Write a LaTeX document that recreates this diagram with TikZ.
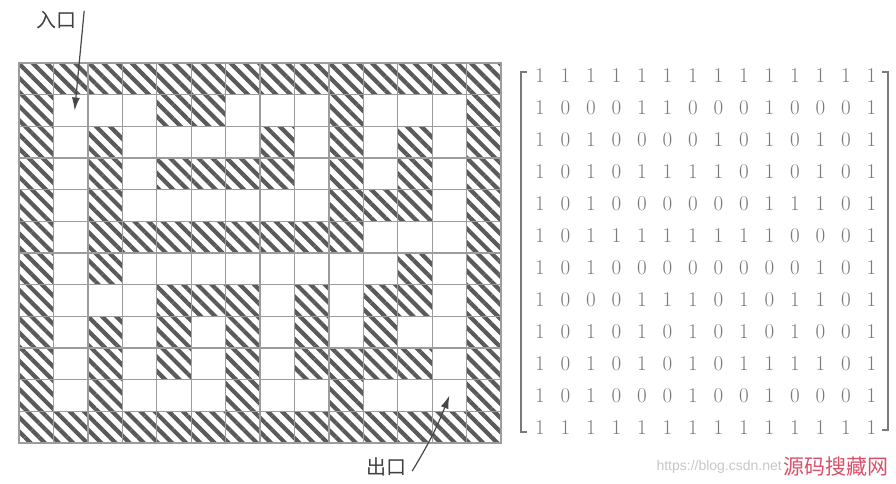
\documentclass[tikz,border=0pt]{standalone}
\usepackage{fontspec}
\usepackage{xcolor}
\usepackage{tikz}
\usetikzlibrary{patterns.meta,arrows.meta}
\newfontfamily\cjk{Noto Sans CJK SC}
\newfontfamily\wmfont{Liberation Sans}
\definecolor{hatch}{HTML}{5A5A5A}
\definecolor{gridline}{HTML}{9C9C9C}
\definecolor{digit}{HTML}{7A7A7A}
\definecolor{wmred}{HTML}{D9506A}
\tikzset{
  cell/.style={minimum width=34.43pt, minimum height=31.67pt, inner sep=0pt, outer sep=0pt},
  wall1/.style={pattern={Lines[angle=-45,distance=10pt,line width=4.2pt]}, pattern color=hatch},
  wall0/.style={},
  digitnode/.style={text=digit, font=\fontsize{21}{21}\selectfont, inner sep=0pt},
  tag/.style={font=\cjk\fontsize{20}{20}\selectfont, text=black!75, inner sep=1pt},
  pointer/.style={-{Latex[length=13pt,width=8pt]}, line width=1.2pt, draw=black!72},
  bracket/.style={draw=digit, line width=1.2pt},
}
\begin{document}
\begin{tikzpicture}[x=1pt, y=-1pt]
\useasboundingbox (0,0) rectangle (896,483);
\foreach \row [count=\r from 0] in {
  {1,1,1,1,1,1,1,1,1,1,1,1,1,1},
  {1,0,0,0,1,1,0,0,0,1,0,0,0,1},
  {1,0,1,0,0,0,0,1,0,1,0,1,0,1},
  {1,0,1,0,1,1,1,1,0,1,0,1,0,1},
  {1,0,1,0,0,0,0,0,0,1,1,1,0,1},
  {1,0,1,1,1,1,1,1,1,1,0,0,0,1},
  {1,0,1,0,0,0,0,0,0,0,0,1,0,1},
  {1,0,0,0,1,1,1,0,1,0,1,1,0,1},
  {1,0,1,0,1,0,1,0,1,0,1,0,0,1},
  {1,0,1,0,1,0,1,0,1,1,1,1,0,1},
  {1,0,1,0,0,0,1,0,0,1,0,0,0,1},
  {1,1,1,1,1,1,1,1,1,1,1,1,1,1}} {
  \foreach \v [count=\c from 0] in \row {
    \node[cell, wall\v] (c-\r-\c) at ({19+34.43*(\c+0.5)}, {63+31.67*(\r+0.5)}) {};
    \node[digitnode] (m-\r-\c) at ({540+25.5*\c}, {76+32*\r}) {\v};
  }
}
\foreach \r in {0,...,11}
  \foreach \c in {0,...,13}
    \draw[draw=gridline, line width=1.3pt] (c-\r-\c.north west) rectangle (c-\r-\c.south east);
\draw[bracket] (527,72) -- (521,72) -- (521,432) -- (527,432);
\draw[bracket] (882,72) -- (888,72) -- (888,430) -- (882,430);
\node[tag] (entry) at (56,20) {入口};
\node[tag] (exit) at (386,467) {出口};
\draw[pointer] ([shift={(7,1)}]entry.north east) -- ([xshift=4pt]c-1-1.center);
\draw[pointer] ([shift={(5,4)}]exit.east) to[bend right=5] (c-10-12.center);
\node[font=\wmfont\fontsize{14}{14}\selectfont, text=black!22, anchor=east, inner sep=0pt] (wm-url) at (782,467) {https://blog.csdn.net};
\node[font=\cjk\fontsize{21}{21}\selectfont, text=wmred, anchor=west, inner sep=0pt] (wm-site) at (783,467) {源码搜藏网};
\end{tikzpicture}
\end{document}
